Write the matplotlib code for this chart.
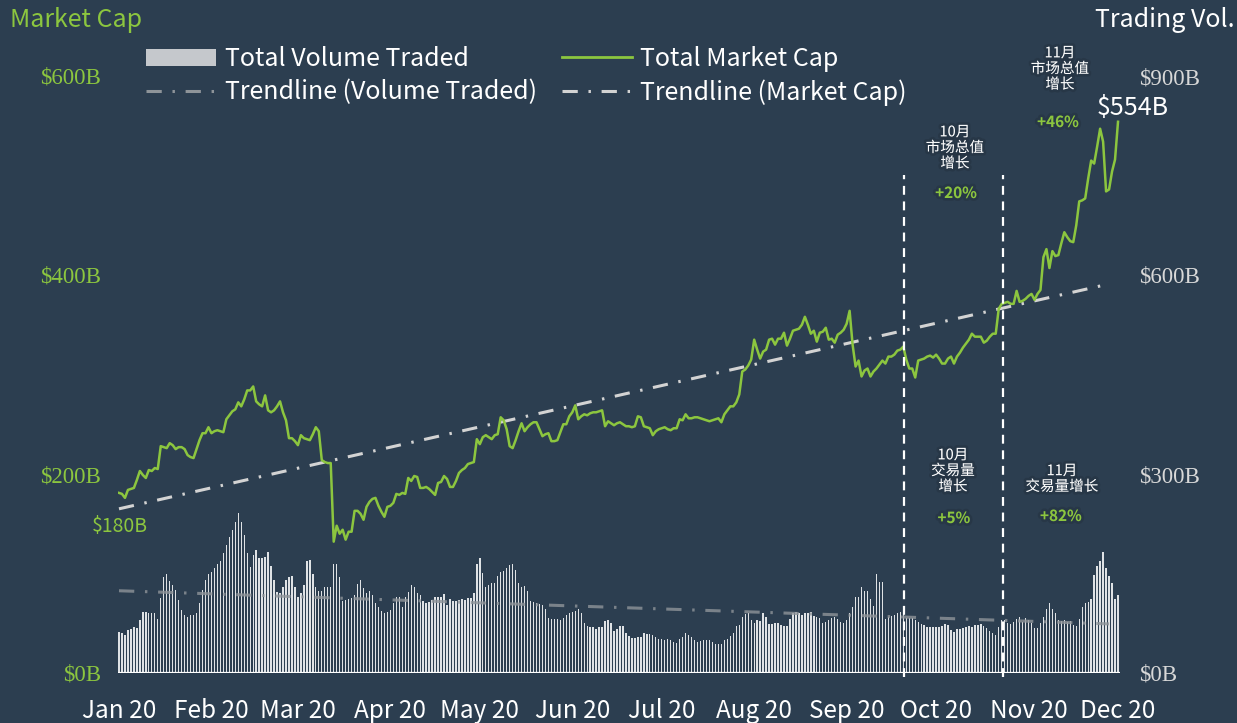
import matplotlib
matplotlib.use("Agg")
import matplotlib.pyplot as plt
import matplotlib.patheffects as pe
from matplotlib.lines import Line2D
from matplotlib.patches import Patch
import numpy as np

BG = "#2c3e50"
GREEN = "#8cc63f"
SANS = ["Noto Sans CJK SC", "DejaVu Sans"]
SERIF = ["Liberation Serif", "DejaVu Serif"]

# daily values, 1 Jan 2020 .. 1 Dec 2020 (day index 0..335)
market_cap = [
    181, 180, 176, 184, 185, 186, 194, 203, 199, 196, 204, 203, 206, 205,
    228, 227, 226, 231, 229, 225, 227, 227, 225, 219, 217, 216, 225, 234, 241, 241, 247,
    241, 243, 244, 243, 242, 255, 259, 263, 265, 272, 268, 275, 284, 284, 288, 273, 270,
    268, 279, 264, 262, 264, 268, 273, 262, 254, 236, 236, 233, 229,
    239, 236, 235, 234, 240, 247, 243, 214, 212, 211, 211, 132, 148, 140, 144, 134, 142,
    142, 163, 163, 160, 154, 167, 172, 175, 176, 168, 162, 157, 167,
    168, 171, 180, 179, 181, 180, 196, 193, 198, 197, 186, 186, 187, 185, 182, 179, 191,
    192, 198, 195, 187, 187, 193, 201, 204, 206, 210, 211, 212, 235,
    230, 237, 239, 237, 235, 239, 240, 257, 254, 245, 228, 226, 234, 243, 251, 243, 247,
    250, 252, 252, 245, 238, 240, 241, 233, 233, 234, 242, 250, 250, 258,
    262, 269, 255, 258, 260, 259, 261, 262, 262, 263, 264, 248, 253, 251, 249, 251, 252,
    250, 248, 248, 247, 248, 258, 257, 248, 247, 246, 239, 243, 245,
    246, 247, 245, 244, 246, 246, 255, 254, 260, 256, 256, 257, 257, 256, 255, 254, 253,
    254, 255, 256, 252, 260, 264, 268, 268, 272, 280, 303, 305, 309, 315,
    335, 325, 316, 323, 325, 335, 336, 330, 336, 336, 342, 329, 336, 344, 345, 346, 350,
    358, 350, 341, 344, 333, 342, 343, 347, 335, 336, 332, 340, 342, 345,
    351, 364, 330, 308, 314, 298, 304, 306, 298, 303, 306, 310, 314, 311, 318, 318, 320,
    324, 325, 328, 315, 306, 306, 297, 314, 315, 316, 318, 319, 317,
    320, 316, 311, 311, 316, 318, 311, 318, 322, 327, 331, 335, 341, 338, 338, 338, 332,
    334, 338, 341, 341, 366, 371, 372, 373, 371, 371, 384, 373, 374, 376,
    379, 381, 375, 381, 385, 418, 426, 407, 424, 419, 420, 432, 443, 438, 434, 433, 450,
    474, 475, 477, 497, 515, 512, 529, 547, 534, 484, 486, 504, 516, 554,
]

volume = [
    62, 60, 57, 65, 67, 69, 68, 80, 92, 92, 90, 91, 90, 82, 113, 145, 150, 138, 132, 125,
    110, 95, 87, 85, 87, 88, 90, 105, 125, 140, 150, 153, 158, 164, 169, 181, 193, 205, 216, 228,
    241, 228, 208, 181, 160, 178, 185, 173, 174, 175, 182, 161, 140, 122, 120, 130, 140, 144, 146, 130,
    115, 120, 133, 169, 170, 150, 130, 123, 123, 129, 130, 130, 165, 165, 145, 108, 110, 111, 113, 118,
    134, 140, 128, 121, 123, 118, 105, 100, 94, 91, 92, 95, 105, 115, 115, 100, 115, 122, 132, 130,
    121, 118, 109, 106, 107, 110, 114, 115, 115, 119, 103, 112, 108, 109, 110, 112, 110, 113, 113, 120,
    164, 173, 151, 130, 133, 135, 136, 146, 153, 154, 159, 163, 164, 156, 135, 130, 131, 124, 109, 107,
    106, 104, 102, 96, 83, 82, 82, 81, 80, 83, 87, 91, 92, 93, 96, 90, 76, 71, 70, 69,
    67, 69, 69, 79, 80, 76, 64, 67, 71, 71, 60, 56, 53, 53, 55, 55, 60, 59, 59, 57,
    54, 51, 51, 50, 51, 49, 46, 45, 51, 55, 61, 58, 55, 50, 47, 48, 50, 50, 49, 46,
    44, 43, 44, 49, 51, 56, 61, 71, 73, 85, 89, 90, 80, 75, 80, 79, 90, 84, 74, 74,
    76, 75, 72, 71, 71, 81, 91, 92, 91, 87, 90, 91, 92, 86, 84,
    83, 76, 77, 80, 83, 85, 81, 77, 76, 80, 91, 100, 114, 114, 129, 124, 123, 112, 101, 150,
    137, 137, 81, 85, 86, 88, 91, 92, 91, 83, 83, 83, 80, 77, 74, 72, 70, 69, 69, 69,
    70, 71, 74, 72, 65, 62, 66, 67, 68, 70, 71, 70, 72, 72, 74, 71, 68, 64, 60, 57,
    70, 80, 80, 76, 74, 77, 81, 84, 77, 83, 80, 75, 68, 68, 76, 85, 97, 105, 97, 91,
    80, 79, 80, 77, 79, 72, 71, 81, 100, 105, 107, 112, 148, 161, 169, 183, 159, 146, 136, 111,
    118,
]

days = np.arange(len(market_cap))
month_starts = [0, 31, 60, 91, 121, 152, 182, 213, 244, 274, 305, 335]
month_labels = ["Jan 20", "Feb 20", "Mar 20", "Apr 20", "May 20", "Jun 20",
                "Jul 20", "Aug 20", "Sep 20", "Oct 20", "Nov 20", "Dec 20"]

cap_trend_x = [0, 332]
cap_trend_y = [165, 391]
vol_trend_x = [0, 332]
vol_trend_y = [124, 74]

marker_days = [263.4, 296.3]

cap_ticks = [0, 200, 400, 600]
vol_ticks = [0, 300, 600, 900]

TREND_DASH = (5, 3.5, 0.8, 3.5)

W, H = 1237, 723
fig = plt.figure(figsize=(W / 100, H / 100), dpi=100, facecolor=BG)
ax = fig.add_axes([117.5 / W, 50 / H, 1002 / W, 597 / H])
ax2 = ax.twinx()
ax.set_zorder(ax2.get_zorder() + 1)
ax.patch.set_visible(False)
ax2.set_facecolor(BG)

# volume bars + trend (right axis)
ax2.bar(days, volume, width=0.45, color="#dfe2e5", linewidth=0, zorder=2)
ax2.plot(vol_trend_x, vol_trend_y, color="#8e9499", lw=2.2, alpha=0.8,
         dashes=TREND_DASH, zorder=3)
ax2.set_ylim(0, 900)
ax2.set_yticks(vol_ticks)
ax2.set_yticklabels([f"${v}B" for v in vol_ticks])

# market cap line + trend (left axis)
ax.plot(days, market_cap, color=GREEN, lw=1.8, zorder=5)
ax.plot(cap_trend_x, cap_trend_y, color="#d3d3d3", lw=2.2,
        dashes=TREND_DASH, zorder=4)
for d in marker_days:
    ax.plot([d, d], [-4, 500], color="white", lw=1.6, dashes=(4, 3),
            clip_on=False, zorder=6)
ax.axhline(0, color="white", lw=1.6, zorder=7)
ax.set_ylim(0, 600)
ax.set_yticks(cap_ticks)
ax.set_yticklabels([f"${v}B" for v in cap_ticks])
ax.set_xlim(-0.5, 335.5)
ax.set_xticks(month_starts)
ax.set_xticklabels(month_labels)

for a in (ax, ax2):
    for s in a.spines.values():
        s.set_visible(False)
    a.tick_params(length=0)
    a.grid(False)
ax.tick_params(axis="x", pad=18, labelsize=17.5, labelcolor="white")
for t in ax.get_xticklabels():
    t.set_family(SANS)
ax.tick_params(axis="y", pad=12, labelsize=16.5, labelcolor=GREEN)
for t in ax.get_yticklabels():
    t.set_family(SERIF)
ax2.tick_params(axis="y", pad=14, labelsize=16.5, labelcolor="#d8d8d8")
for t in ax2.get_yticklabels():
    t.set_family(SERIF)


def px(x, y):
    return x / W, 1 - y / H


glow = [pe.withStroke(linewidth=4, foreground="#24313f", alpha=0.5)]

fig.text(*px(10, 20), "Market Cap", color=GREEN, fontsize=18, family=SANS,
         ha="left", va="center")
fig.text(*px(1235, 20), "Trading Vol.", color="white", fontsize=18, family=SANS,
         ha="right", va="center")

notes = [
    (1060, 69, "11月\n市场总值\n增长", 1058, 122, "+46%"),
    (955, 148, "10月\n市场总值\n增长", 956, 193, "+20%"),
    (953, 471, "10月\n交易量\n增长", 954, 518, "+5%"),
    (1062, 479, "11月\n交易量增长", 1061, 516, "+82%"),
]
for x, y, label, gx, gy, pct in notes:
    fig.text(*px(x, y), label, color="white", fontsize=10.5, family=SANS,
             ha="center", va="center", linespacing=1.15, path_effects=glow)
    fig.text(*px(gx, gy), pct, color=GREEN, fontsize=11, family=SANS,
             fontweight="bold", ha="center", va="center", path_effects=glow)

fig.text(*px(1133, 108), f"${market_cap[-1]}B", color="white", fontsize=18,
         family=SANS, ha="center", va="center")
fig.text(*px(120, 527), f"${market_cap[0] - 1}B", color=GREEN, fontsize=14,
         family=SANS, ha="center", va="center")

handles = [
    Patch(facecolor="#c5c8cc", edgecolor="none"),
    Line2D([], [], color="#8e9499", lw=2.2, dashes=TREND_DASH),
    Line2D([], [], color=GREEN, lw=2),
    Line2D([], [], color="#d3d3d3", lw=2.2, dashes=TREND_DASH),
]
labels = ["Total Volume Traded", "Trendline (Volume Traded)",
          "Total Market Cap", "Trendline (Market Cap)"]
leg = fig.legend(handles, labels, ncol=2, loc="upper left",
                 bbox_to_anchor=px(146, 46), frameon=False,
                 prop={"family": SANS, "size": 18}, labelcolor="white",
                 handlelength=2.8, handleheight=0.7, handletextpad=0.35,
                 columnspacing=1.0, labelspacing=0.3, borderpad=0,
                 borderaxespad=0)

fig.savefig("out.png", dpi=100, facecolor=BG)
